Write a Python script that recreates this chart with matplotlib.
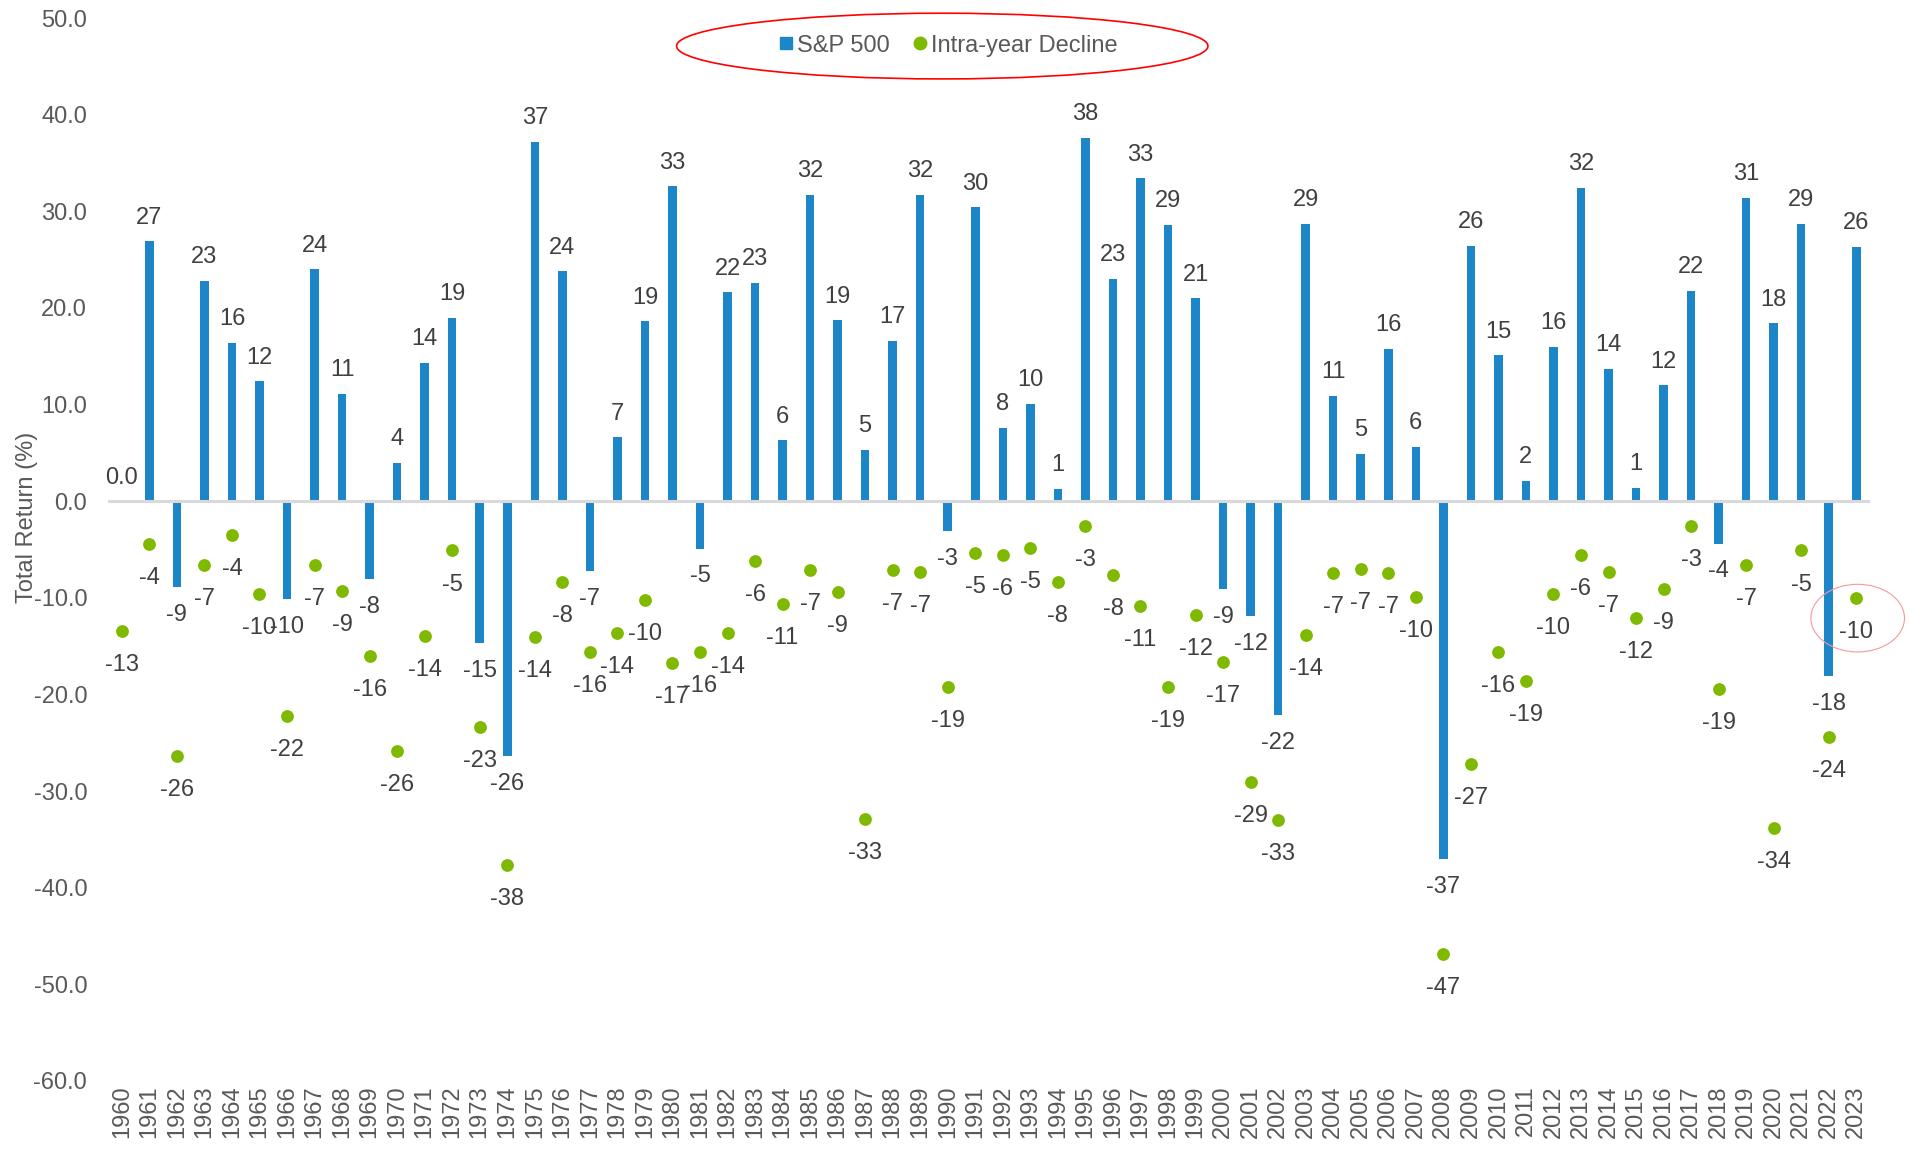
import matplotlib
matplotlib.use('Agg')
import numpy as np
from matplotlib import pyplot as plt
from matplotlib.lines import Line2D
from matplotlib.patches import Ellipse
from matplotlib.ticker import FormatStrFormatter

years = list(range(1960, 2024))

# calendar year total return, %
sp500 = [0.0, 26.9, -8.9, 22.8, 16.4, 12.4, -10.1, 24.0, 11.1, -8.1,
         4.0, 14.3, 19.0, -14.7, -26.4, 37.2, 23.8, -7.2, 6.6, 18.6,
         32.6, -4.9, 21.6, 22.6, 6.3, 31.7, 18.7, 5.3, 16.6, 31.7,
         -3.1, 30.4, 7.6, 10.1, 1.3, 37.6, 23.0, 33.4, 28.6, 21.0,
         -9.1, -11.9, -22.1, 28.7, 10.9, 4.9, 15.8, 5.6, -37.0, 26.4,
         15.1, 2.1, 16.0, 32.4, 13.7, 1.4, 12.0, 21.8, -4.4, 31.4,
         18.4, 28.7, -18.1, 26.3]

# largest intra-year drop, %
declines = [-13.4, -4.4, -26.4, -6.6, -3.5, -9.6, -22.2, -6.6, -9.3, -16.0,
            -25.9, -13.9, -5.1, -23.4, -37.6, -14.1, -8.4, -15.6, -13.6, -10.2,
            -16.7, -15.6, -13.6, -6.2, -10.6, -7.1, -9.4, -32.9, -7.1, -7.3,
            -19.2, -5.4, -5.6, -4.8, -8.4, -2.6, -7.6, -10.8, -19.2, -11.8,
            -16.6, -29.1, -33.0, -13.8, -7.4, -7.0, -7.4, -9.9, -46.9, -27.2,
            -15.6, -18.6, -9.6, -5.6, -7.3, -12.1, -9.1, -2.6, -19.4, -6.6,
            -33.8, -5.1, -24.4, -10.0]

BLUE = '#1C86C9'
GREEN = '#7FBA00'
LABEL = '#404040'
TICK = '#595959'

plt.rcParams['font.family'] = ['Liberation Sans', 'DejaVu Sans']

fig = plt.figure(figsize=(19.09, 11.49), dpi=100)
ax = fig.add_axes([0.0566, 0.0592, 0.923, 0.9251])

x = np.arange(len(years))
ax.bar(x, sp500, width=0.31, color=BLUE, zorder=2)
ax.scatter(x, declines, s=85, color=GREEN, linewidths=0, zorder=3)
ax.axhline(0, color='#D9D9D9', lw=2.2, zorder=2.5)

# value labels
for xi, v in zip(x, sp500):
    txt = '0.0' if v == 0 else f'{v:.0f}'
    off = 17 if v >= 0 else -20
    ax.annotate(txt, (xi, v), xytext=(0, off), textcoords='offset points',
                ha='center', va='center', fontsize=17, color=LABEL)
for xi, v in zip(x, declines):
    ax.annotate(f'{v:.0f}', (xi, v), xytext=(0, -24.5), textcoords='offset points',
                ha='center', va='center', fontsize=17, color=LABEL)

ax.set_xlim(-0.5, len(years) - 0.5)
ax.set_ylim(-60, 50)
ax.set_yticks(np.arange(-60, 51, 10))
ax.yaxis.set_major_formatter(FormatStrFormatter('%.1f'))
ax.set_xticks(x)
ax.set_xticklabels([str(y) for y in years], rotation=90)
ax.tick_params(axis='y', length=0, pad=15, labelsize=17, labelcolor=TICK)
ax.tick_params(axis='x', length=0, pad=3, labelsize=17, labelcolor=TICK)
for s in ax.spines.values():
    s.set_visible(False)

ax.set_ylabel('Total Return (%)', fontsize=17, color=TICK)
ax.yaxis.set_label_coords(-0.040, 0.53)

handles = [Line2D([], [], marker='s', ls='', color=BLUE, markersize=9),
           Line2D([], [], marker='o', ls='', color=GREEN, markersize=9)]
ax.legend(handles, ['S&P 500', 'Intra-year Decline'], loc='center',
          bbox_to_anchor=(0.477, 0.974), ncol=2, frameon=False, fontsize=17,
          labelcolor=TICK, handlelength=0.6, handletextpad=0.15, columnspacing=1.0)

# hand-drawn style highlight circles
ax.add_patch(Ellipse((29.8, 47.1), 19.3, 6.8, fill=False, ec='red', lw=1.2, clip_on=False, zorder=5))
ax.add_patch(Ellipse((63.05, -12.1), 3.4, 7.0, fill=False, ec='#F29A9A', lw=0.8, clip_on=False, zorder=5))

fig.savefig('out.png', dpi=100)
